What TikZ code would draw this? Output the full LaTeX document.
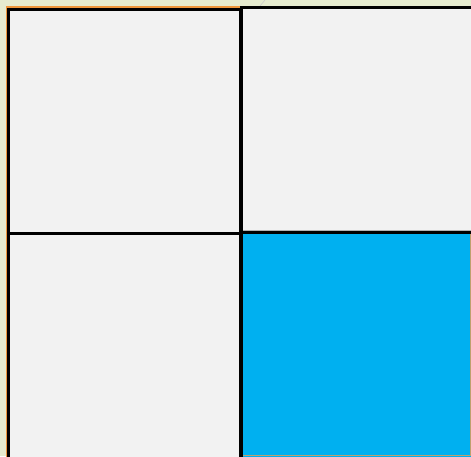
\documentclass[tikz,border=0pt]{standalone}
\definecolor{bggreen}{RGB}{230,235,207}
\definecolor{cellgray}{RGB}{242,242,242}
\definecolor{cellblue}{RGB}{0,176,240}
\definecolor{edgeorange}{RGB}{238,150,60}
\definecolor{edgetan}{RGB}{190,160,110}
\tikzset{
  cell/.style={fill=cellgray, draw=black, line width=3pt},
  bluecell/.style={fill=cellblue, draw=black, line width=3pt},
}
\begin{document}
\begin{tikzpicture}[x=1pt,y=1pt]
\useasboundingbox (0,0) rectangle (471,-456);
\fill[bggreen] (0,0) rectangle (471,-456);
% faint diagonal mark
\draw[gray!40, line width=0.6pt] (265,0) -- (260,-6);
% orange outer edge
\draw[edgeorange, line width=1.4pt] (6.2,-460) -- (6.2,-7.0) -- (241,-7.0);
% cells
\draw[cell] (241,-7.9) rectangle (476,-232);
\fill[gray!60] (242.6,-229.8) rectangle (476,-231);
\draw[cell] (8.4,-9.0) rectangle (240.7,-233.6);
\draw[cell] (8.4,-233.6) rectangle (240.7,-462);
\draw[bluecell] (241,-232.6) rectangle (476,-462);
\fill[cellblue] (242.6,-234.2) rectangle (469.5,-454.8);
% tan edges of blue cell
\draw[edgetan, line width=0.8pt] (470.2,-234.2) -- (470.2,-455.4) -- (242.6,-455.4);
\end{tikzpicture}
\end{document}
